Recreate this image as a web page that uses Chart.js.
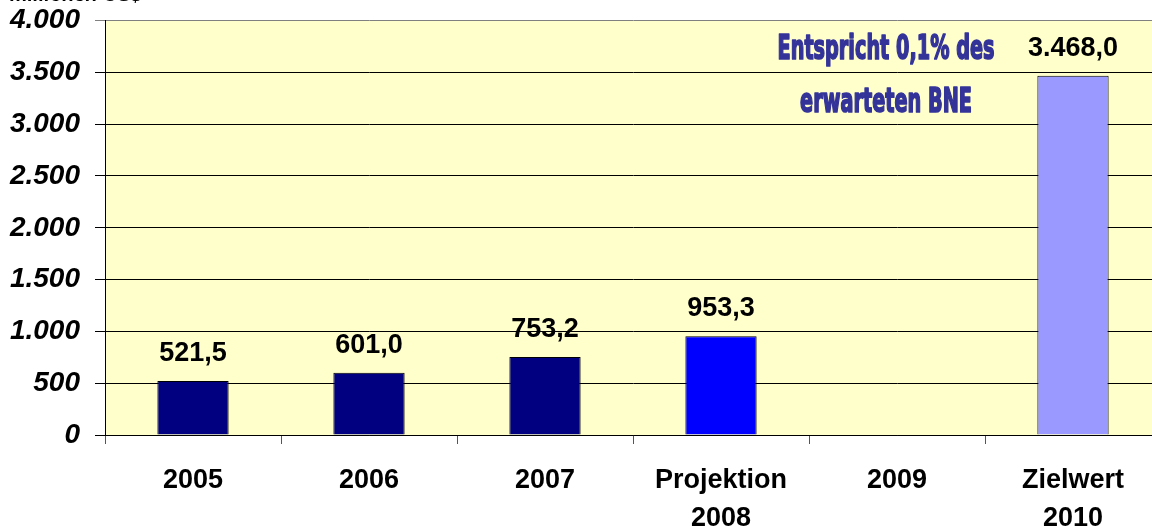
<!DOCTYPE html>
<html>
<head>
<meta charset="utf-8">
<script src="https://cdn.jsdelivr.net/npm/chart.js@4/dist/chart.umd.min.js"></script>
<style>
  html, body { margin: 0; padding: 0; background: #fff; overflow: hidden; }
  #wrap { position: relative; width: 1161px; height: 529px; }
  #unit { position: absolute; left: 10px; top: -17px; font: italic bold 20px Arial, "Liberation Sans", sans-serif; color: #000; }
</style>
</head>
<body>
<div id="wrap">
  <canvas id="bar-chart" width="1161" height="529"></canvas>
  <div id="unit">millionen US$</div>
</div>
<script>
// Millionen US$
categories = [["2005"], ["2006"], ["2007"], ["Projektion", "2008"], ["2009"], ["Zielwert", "2010"]];
values = [521.5, 601.0, 753.2, 953.3, null, 3468.0];
barColors = ["#000080", "#000080", "#000080", "#0000FF", "#000080", "#9999FF"];
yTicks = [0, 500, 1000, 1500, 2000, 2500, 3000, 3500, 4000];
note = ["Entspricht 0,1% des", "erwarteten BNE"];

function de(v, d) {
  return v.toLocaleString("de-DE", { minimumFractionDigits: d, maximumFractionDigits: d });
}

var extras = {
  id: "extras",
  beforeDraw: function (chart) {
    var a = chart.chartArea, ctx = chart.ctx;
    ctx.save();
    ctx.fillStyle = "#FFFFCC";
    ctx.fillRect(a.left, a.top, a.right - a.left, a.bottom - a.top);
    ctx.restore();
  },
  afterDatasetsDraw: function (chart) {
    var ctx = chart.ctx, meta = chart.getDatasetMeta(0);
    ctx.save();
    ctx.fillStyle = "#000";
    ctx.font = "bold 27px Arial, 'Liberation Sans', sans-serif";
    ctx.textAlign = "center";
    ctx.textBaseline = "bottom";
    meta.data.forEach(function (bar, i) {
      if (values[i] == null) return;
      ctx.fillText(de(values[i], 1), bar.x, bar.y - 14);
    });
    // annotation
    var x = chart.scales.x.getPixelForValue(4) - 11;
    ctx.fillStyle = "#333399";
    ctx.strokeStyle = "#333399";
    ctx.lineWidth = 1.3;
    ctx.lineJoin = "round";
    ctx.font = "bold 26px 'DejaVu Sans Condensed', 'DejaVu Sans', sans-serif";
    ctx.textBaseline = "alphabetic";
    var sx = 217 / ctx.measureText(note[0]).width;
    var sy = 1.32;
    ctx.translate(x, 0);
    ctx.scale(sx, sy);
    ctx.fillText(note[0], 0, 59 / sy);
    ctx.strokeText(note[0], 0, 59 / sy);
    ctx.fillText(note[1], 0, 112 / sy);
    ctx.strokeText(note[1], 0, 112 / sy);
    ctx.restore();
  }
};

new Chart(document.getElementById("bar-chart"), {
  type: "bar",
  data: {
    labels: categories,
    datasets: [{
      data: values,
      backgroundColor: barColors,
      borderColor: "#000",
      borderWidth: 1,
      categoryPercentage: 1,
      barPercentage: 0.405
    }]
  },
  options: {
    responsive: false,
    animation: false,
    layout: { padding: { top: 20, left: 0, right: 0, bottom: 0 } },
    plugins: { legend: { display: false }, tooltip: { enabled: false } },
    scales: {
      x: {
        grid: { offset: true, drawOnChartArea: false, drawTicks: true, tickLength: 9, color: "#555" },
        border: { color: "#000", width: 1 },
        ticks: {
          color: "#000",
          font: { family: "Arial, 'Liberation Sans', sans-serif", size: 27, weight: "bold", lineHeight: 1.4 },
          padding: 18,
          maxRotation: 0
        },
        afterFit: function (s) { s.height = 94; }
      },
      y: {
        min: 0, max: 4000,
        afterBuildTicks: function (s) { s.ticks = yTicks.map(function (v) { return { value: v }; }); },
        grid: {
          color: function (c) { return c.tick && c.tick.value === 4000 ? "#808080" : "#000"; },
          tickLength: 10
        },
        border: { color: "#000", width: 1 },
        ticks: {
          color: "#000",
          font: { family: "Arial, 'Liberation Sans', sans-serif", size: 28, weight: "bold", style: "italic", lineHeight: 0.4 },
          padding: 15,
          callback: function (v) { return de(v, 0); }
        },
        afterFit: function (s) { s.width = 105; }
      }
    }
  },
  plugins: [extras]
});
</script>
</body>
</html>
